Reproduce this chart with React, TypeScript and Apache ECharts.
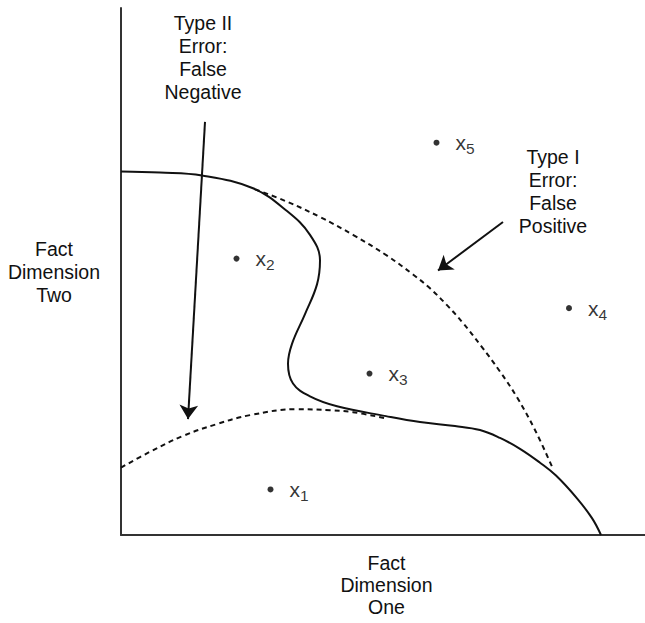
import React, { useEffect, useRef } from "react";
import * as echarts from "echarts";

// Coordinates are in the chart's own units: x from the vertical axis, y from the horizontal axis.
const pointNames = ["1", "2", "3", "4", "5"];
const pointX = [149.5, 115.5, 248.5, 448, 315.5];
const pointY = [46, 279, 163, 229, 396];

const solidBoundary: number[][] = [
  [0, 367], [39, 366], [81, 363], [132, 350], [166, 327], [189, 303], [199, 277],
  [196, 253], [184, 223], [171, 193], [167, 173], [172, 153], [189, 140], [216, 130],
  [265, 120], [299, 114], [334, 110], [359, 106], [379, 98], [399, 87], [419, 73],
  [435, 60], [456, 37], [471, 17], [480, 0],
];

const upperDashed: number[][] = [
  [134, 349], [166, 336.5], [199, 321], [232, 303], [266, 282], [292, 263], [309, 249],
  [326, 232], [342, 214], [360, 191], [379, 165], [396, 139], [414, 106], [431, 69],
];

const lowerDashed: number[][] = [
  [0, 68], [29, 84], [62, 100], [96, 112], [129, 121], [176, 127], [209, 126],
  [232, 124], [264, 118],
];

const typeIIArrow: number[][] = [[84, 417], [67, 117]];
const typeIArrow: number[][] = [[382, 316], [317, 267]];

const xAxisTitle = "Fact\nDimension\nOne";
const yAxisTitle = "Fact\nDimension\nTwo";
const typeIILabel = "Type II\nError:\nFalse\nNegative";
const typeILabel = "Type I\nError:\nFalse\nPositive";

const FONT = '"Liberation Sans", Arial, Helvetica, sans-serif';
const INK = "#111";

export default function App() {
  const ref = useRef<HTMLDivElement>(null);

  useEffect(() => {
    if (!ref.current) return;
    const chart = echarts.init(ref.current, undefined, { renderer: "svg" });
    const scatterData = pointX.map((x, i) => ({ value: [x, pointY[i]], name: pointNames[i] }));

    chart.setOption({
      animation: false,
      backgroundColor: "#fff",
      grid: { left: 121, right: 0, top: 8, bottom: 83 },
      xAxis: {
        type: "value",
        min: 0,
        max: 524,
        axisLine: { show: true, onZero: false, lineStyle: { color: "#333", width: 2 } },
        axisTick: { show: false },
        axisLabel: { show: false },
        splitLine: { show: false },
        name: xAxisTitle,
        nameLocation: "middle",
        nameGap: 17,
        nameTextStyle: {
          fontFamily: FONT,
          fontSize: 19.5,
          lineHeight: 22,
          color: INK,
          align: "center",
          verticalAlign: "top",
          padding: [0, 0, 0, 7],
        },
      },
      yAxis: {
        type: "value",
        min: 0,
        max: 532,
        axisLine: { show: true, onZero: false, lineStyle: { color: "#333", width: 2 } },
        axisTick: { show: false },
        axisLabel: { show: false },
        splitLine: { show: false },
        name: yAxisTitle,
        nameLocation: "middle",
        nameRotate: 0,
        nameGap: 67,
        nameTextStyle: {
          fontFamily: FONT,
          fontSize: 19.5,
          lineHeight: 23,
          color: INK,
          align: "center",
          verticalAlign: "middle",
        },
      },
      series: [
        {
          type: "line",
          data: solidBoundary,
          smooth: 0.4,
          showSymbol: false,
          lineStyle: { color: "#111", width: 2 },
          z: 3,
        },
        {
          type: "line",
          data: upperDashed,
          smooth: 0.4,
          showSymbol: false,
          lineStyle: { color: "#111", width: 2, type: [5, 4] },
          z: 2,
        },
        {
          type: "line",
          data: lowerDashed,
          smooth: 0.4,
          showSymbol: false,
          lineStyle: { color: "#111", width: 2, type: [5, 4] },
          z: 2,
        },
        {
          type: "lines",
          coordinateSystem: "cartesian2d",
          symbol: ["none", "arrow"],
          symbolSize: 14,
          lineStyle: { color: "#111", width: 2, opacity: 1, curveness: 0 },
          data: [{ coords: typeIIArrow }, { coords: typeIArrow }],
          z: 4,
        },
        {
          type: "scatter",
          data: scatterData,
          symbol: "circle",
          symbolSize: 6,
          itemStyle: { color: "#000" },
          z: 5,
          label: {
            show: true,
            position: "right",
            distance: 16,
            formatter: (p: any) => `{x|x}{s|${p.name}}`,
            rich: {
              x: { fontFamily: FONT, fontSize: 21, color: "#000" },
              s: { fontFamily: FONT, fontSize: 15.5, color: "#000", padding: [12, 0, 0, 0] },
            },
          },
        },
      ],
      graphic: [
        {
          type: "text",
          x: 203,
          y: 11.5,
          style: {
            text: typeIILabel,
            fontFamily: FONT,
            fontSize: 19.5,
            lineHeight: 23,
            fill: INK,
            align: "center",
            verticalAlign: "top",
          },
        },
        {
          type: "text",
          x: 553,
          y: 145,
          style: {
            text: typeILabel,
            fontFamily: FONT,
            fontSize: 19.5,
            lineHeight: 23,
            fill: INK,
            align: "center",
            verticalAlign: "top",
          },
        },
      ],
    });

    return () => chart.dispose();
  }, []);

  return <div ref={ref} style={{ width: 645, height: 623, position: "absolute", left: 0, top: 0 }} />;
}
